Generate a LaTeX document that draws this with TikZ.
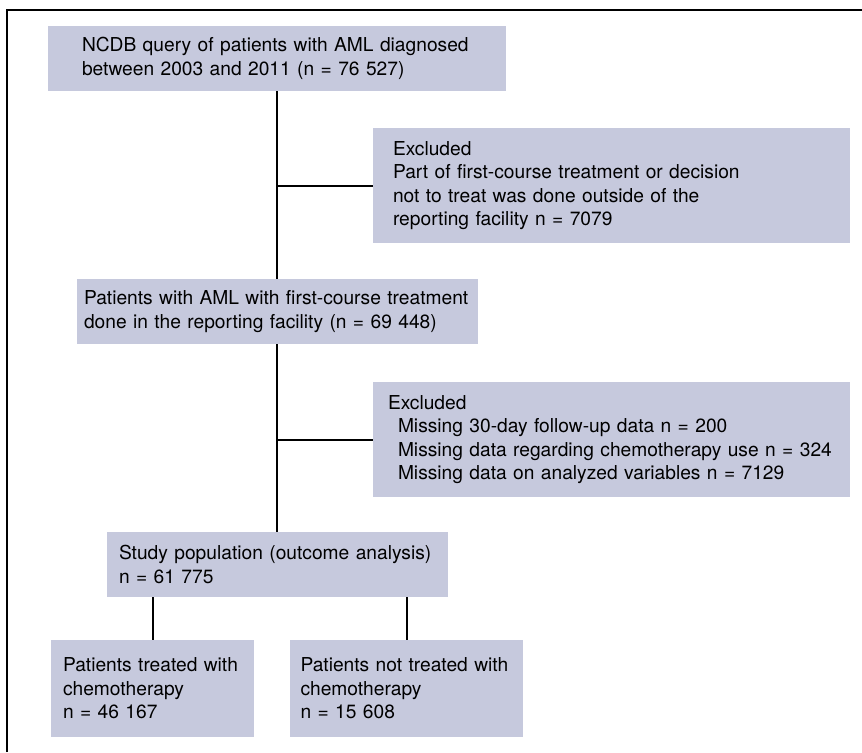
\documentclass[tikz,border=0pt]{standalone}
\usepackage{fontspec}
\setmainfont{TeX Gyre Heros}
\usepackage{tikz}
\usetikzlibrary{positioning,calc}
\definecolor{boxfill}{RGB}{198,201,221}

\begin{document}
\begin{tikzpicture}[x=0.5pt,y=0.5pt,
  flowbox/.style={fill=boxfill,align=left,inner ysep=0pt,font=\fontsize{9.6}{11.7}\selectfont},
  conn/.style={line width=1pt},
  frame/.style={line width=1.3pt}]
  \useasboundingbox (0,0) rectangle (862,752);
  \draw[frame] (7,0) -- (7,742) -- (862,742); % 外枠（左と上）
  \node[flowbox,minimum height=32.5pt,text width=195pt,inner xsep=17pt] (query) at (277,693.5)
    {NCDB query of patients with AML diagnosed\\between 2003 and 2011 (n = 76 527)}; % 最初の抽出
  \node[flowbox,minimum height=57.5pt,text width=218.5pt,inner xsep=10pt] (excl1) at (611.5,566.5)
    {Excluded\\Part of first-course treatment or decision\\not to treat was done outside of the\\reporting facility n = 7079}; % 1回目の除外
  \node[flowbox,minimum height=32.5pt,text width=193pt,inner xsep=3.75pt] (treated) at (277,440.5)
    {Patients with AML with first-course treatment\\done in the reporting facility (n = 69 448)}; % 施設内で治療
  \node[flowbox,minimum height=57.5pt,text width=223.5pt,inner xsep=7.5pt] (excl2) at (611.5,312.5)
    {Excluded\\\hspace*{5pt}Missing 30-day follow-up data n = 200\\\hspace*{5pt}Missing data regarding chemotherapy use n = 324\\\hspace*{5pt}Missing data on analyzed variables n = 7129}; % 2回目の除外
  \node[flowbox,minimum height=32.5pt,text width=158pt,inner xsep=6.25pt] (study) at (277,187.5)
    {Study population (outcome analysis)\\n = 61 775}; % 解析対象
  \node[flowbox,minimum height=48.5pt,text width=89.5pt,inner xsep=6pt] (chemo) at (152.5,63.5)
    {Patients treated with\\chemotherapy\\n = 46 167}; % 化学療法あり
  \node[flowbox,minimum height=48.5pt,text width=106pt,inner xsep=5.25pt] (nochemo) at (406.5,63.5)
    {Patients not treated with\\chemotherapy\\n = 15 608}; % 化学療法なし
  \draw[conn] (query) -- (treated); % 縦の線（上）
  \draw[conn] (treated) -- (study); % 縦の線（下）
  \draw[conn] (excl1.west) -- (excl1.west -| query.south); % 除外への枝1
  \draw[conn] (excl2.west) -- (excl2.west -| treated.south); % 除外への枝2
  \draw[conn] (chemo.north) -- (chemo.north |- study.south); % 左の枝
  \draw[conn] (nochemo.north) -- (nochemo.north |- study.south); % 右の枝
\end{tikzpicture}
\end{document}
